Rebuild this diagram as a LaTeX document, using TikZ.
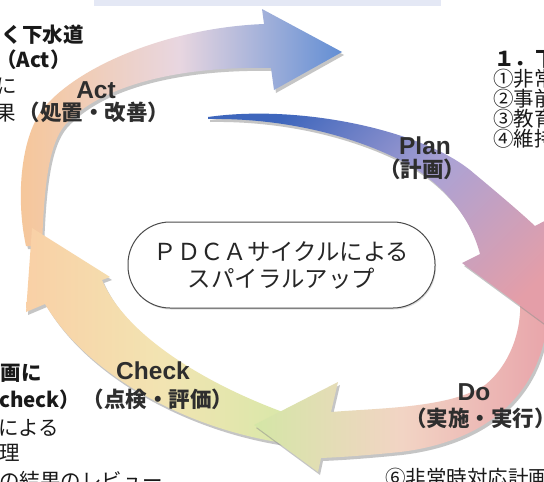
\documentclass[tikz,border=0pt]{standalone}
\usepackage{fontspec}
\newfontfamily\jp{Noto Sans CJK JP}
\newfontfamily\lab{Liberation Sans}
\usetikzlibrary{shadows}
\definecolor{stripcol}{RGB}{228,232,245}
\definecolor{actO}{RGB}{246,198,152}
\definecolor{actM}{RGB}{232,214,224}
\definecolor{actB}{RGB}{98,142,212}
\definecolor{planB}{RGB}{62,102,188}
\definecolor{planL}{RGB}{172,162,212}
\definecolor{planP}{RGB}{228,158,168}
\definecolor{doP}{RGB}{232,164,170}
\definecolor{doM}{RGB}{242,212,196}
\definecolor{doG}{RGB}{212,230,166}
\definecolor{chG}{RGB}{214,232,168}
\definecolor{chY}{RGB}{242,228,178}
\definecolor{chO}{RGB}{249,208,166}
\begin{document}
\begin{tikzpicture}[x=1pt,y=-1pt,
  shadowfill/.style={fill=black!45, opacity=0.5},
  bodytxt/.style={font=\jp\fontsize{20.5}{20.5}\selectfont, text=black!90, inner sep=0pt},
  bodybold/.style={font=\jp\bfseries\fontsize{20.5}{20.5}\selectfont, text=black!90, inner sep=0pt},
  phase/.style={font=\lab\bfseries\fontsize{24.5}{24.5}\selectfont, text=black!82, inner sep=0pt},
  phasejp/.style={font=\jp\bfseries\fontsize{21.5}{21.5}\selectfont, text=black!82, inner sep=0pt},
  pdcabox/.style={draw=black!70, line width=1pt, fill=white, rounded corners=42pt,
    minimum width=307pt, minimum height=86pt, align=center,
    font=\jp\fontsize{23.4}{27}\selectfont, text=black!85,
    drop shadow={shadow xshift=1pt, shadow yshift=-1.5pt, fill=black!25}}
]
\useasboundingbox (0,0) rectangle (544,482);
\clip (0,0) rectangle (544,482);
\fill[white] (0,0) rectangle (544,482);
\fill[stripcol] (94,0) rectangle (441,6);

\def\actpath{(26,246) .. controls (16,200) and (20,140) .. (42,110) .. controls (75,68) and (165,28) .. (264,24) -- (262,9) -- (342,52) -- (274,90) -- (271,68) .. controls (180,66) and (100,85) .. (65,125) .. controls (48,145) and (44,190) .. (42,246) -- cycle}
\def\checkpath{(300,418) .. controls (230,395) and (130,345) .. (102,280) -- (110,277) -- (32,228) -- (26,312) -- (45,304) .. controls (90,380) and (200,435) .. (300,445) -- cycle}
\def\dopath{(548,300) .. controls (550,380) and (500,440) .. (400,452) .. controls (370,455) and (345,457) .. (321,458) -- (318,472) -- (254,425) -- (338,382) -- (331,412) .. controls (380,408) and (450,408) .. (485,385) .. controls (510,365) and (522,330) .. (520,300) -- cycle}
\def\planpath{(208,117) .. controls (300,104) and (420,130) .. (470,170) .. controls (500,195) and (520,212) .. (535,226) -- (575,205) -- (556,332) -- (462,263) -- (480,254) .. controls (470,215) and (440,180) .. (400,160) .. controls (340,130) and (270,118) .. (208,119) -- cycle}

% Act arrow
\fill[shadowfill, shift={(2,3)}] \actpath;
\shade[left color=actO, right color=actB, middle color=actM] \actpath;
% Check arrow
\fill[shadowfill, shift={(2,3)}] \checkpath;
\shade[left color=chO, right color=chG, middle color=chY] \checkpath;
% Do arrow
\fill[shadowfill, shift={(2,3)}] \dopath;
\shade[left color=doG, right color=doP, middle color=doM] \dopath;
% Plan arrow
\fill[shadowfill, shift={(2,3)}] \planpath;
\shade[top color=planB, bottom color=planP, middle color=planL, shading angle=45] \planpath;

% centre
\node[pdcabox] (pdca) at (281.5,265) {ＰＤＣＡサイクルによる\\スパイラルアップ};

% phase labels
\node[phase] (actl) at (96,90) {Act};
\node[phasejp] (actj) at (94,112) {（処置・改善）};
\node[phase] (planl) at (425,146) {Plan};
\node[phasejp] (planj) at (422,169) {（計画）};
\node[phase] (checkl) at (153,371) {Check};
\node[phasejp] (checkj) at (158,399) {（点検・評価）};
\node[phase] (dol) at (474,392) {Do};
\node[phasejp, anchor=base west] (doj) at (405,426) {（実施・実行）};

% top-left text
\node[bodybold, anchor=base east] (t1) at (84,42) {く下水道};
\node[bodybold, anchor=base west] (t2) at (-4,67) {（Act）};
\node[bodytxt, anchor=base west] (t3) at (-4,93) {に};
\node[bodytxt, anchor=base west] (t4) at (-5,120) {果};

% right text
\node[bodybold, anchor=base west] (r0) at (494,66) {１．下};
\node[bodytxt, anchor=base west] (r1) at (493,86) {①非常};
\node[bodytxt, anchor=base west] (r2) at (493,106) {②事前};
\node[bodytxt, anchor=base west] (r3) at (493,126) {③教育};
\node[bodytxt, anchor=base west] (r4) at (493,146) {④維持};

% bottom-left text
\node[bodybold, anchor=base east] (b1) at (42,380) {画に};
\node[bodybold, anchor=base west] (b2) at (-1,407) {check）};
\node[bodytxt, anchor=base west] (b3) at (-2,435) {による};
\node[bodytxt, anchor=base west] (b4) at (-1,460) {理};
\node[bodytxt, anchor=base west] (b5) at (-1,488) {の結果のレビュー};

% bottom-right text
\node[bodytxt, anchor=base west] (b6) at (385,485) {⑥非常時対応計画};
\end{tikzpicture}
\end{document}
